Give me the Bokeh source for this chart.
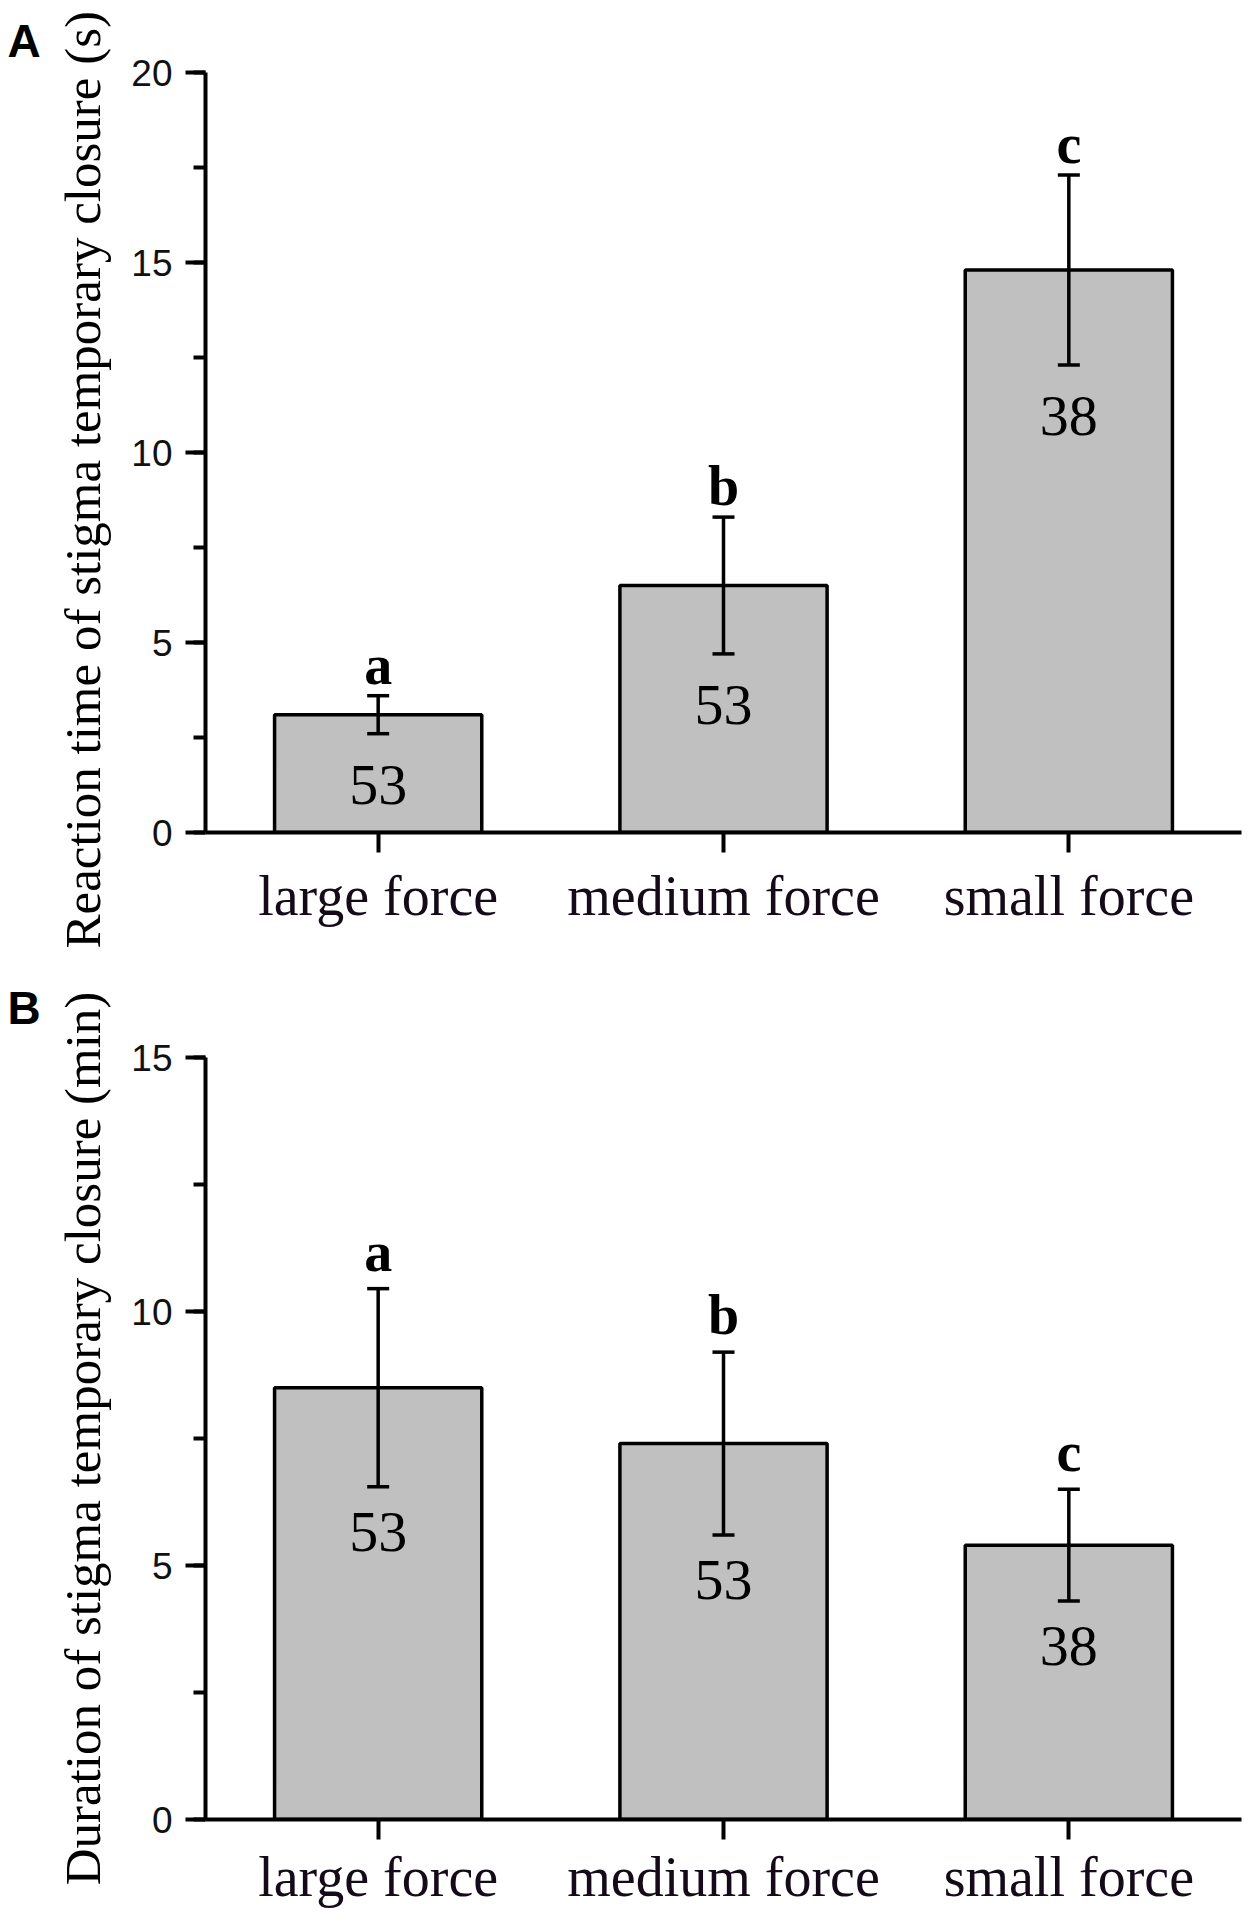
from bokeh.plotting import figure
from bokeh.models import (ColumnDataSource, Range1d, FactorRange, SingleIntervalTicker,
                          Whisker, TeeHead, Title)
from bokeh.layouts import column
from bokeh.embed import file_html
from bokeh.resources import INLINE
from bokeh.core.properties import value

# ---------------- data ----------------
categories = ["large force", "medium force", "small force"]
reaction_mean = [3.1, 6.5, 14.8]
reaction_err = [0.5, 1.8, 2.5]
duration_mean = [8.5, 7.4, 5.4]
duration_err = [1.95, 1.8, 1.1]
sig_letters = ["a", "b", "c"]
n_counts = ["53", "53", "38"]
ylabel_a = "Reaction time of stigma temporary closure (s)"
ylabel_b = "Duration of stigma temporary closure (min)"

SERIF = "Liberation Serif"
SANS = "Liberation Sans"
LW = 4


def panel(means, errs, ymax, height, border_top, border_bottom, letter, ylabel,
          ylabel_align, ylabel_offset, letter_standoff, xlabel_standoff, num_off, sig_off):
    src = ColumnDataSource(dict(
        cat=categories,
        mean=means,
        upper=[m + e for m, e in zip(means, errs)],
        lower=[m - e for m, e in zip(means, errs)],
        sig=sig_letters,
        n=n_counts,
    ))
    p = figure(x_range=FactorRange(*categories, range_padding=0),
               y_range=Range1d(0, ymax),
               width=1258, height=height,
               output_backend="svg", toolbar_location=None,
               min_border_left=205, min_border_right=17,
               min_border_top=border_top, min_border_bottom=border_bottom)
    p.outline_line_color = None
    p.xgrid.visible = False
    p.ygrid.visible = False
    p.background_fill_color = "white"

    p.vbar(x="cat", top="mean", bottom=0, width=0.6, source=src,
           fill_color="#c0c0c0", line_color="black", line_width=3.5)

    w = Whisker(base="cat", upper="upper", lower="lower", source=src,
                dimension="height", line_color="black", line_width=3.5,
                level="annotation",
                upper_head=TeeHead(size=22, line_width=3.5, line_color="black"),
                lower_head=TeeHead(size=22, line_width=3.5, line_color="black"))
    p.add_layout(w)

    p.text(x="cat", y="upper", text="sig", source=src,
           text_font=value(SERIF), text_font_style="bold", text_font_size="56px",
           text_align="center", text_baseline="alphabetic", y_offset=-sig_off,
           text_color="black")
    p.text(x="cat", y="lower", text="n", source=src,
           text_font=value(SERIF), text_font_size="58px",
           text_align="center", text_baseline="alphabetic", y_offset=num_off,
           text_color="black")

    # y axis
    ya = p.yaxis[0]
    ya.ticker = SingleIntervalTicker(interval=5, num_minor_ticks=2)
    ya.axis_line_width = LW
    ya.axis_line_color = "black"
    ya.major_tick_out = 20
    ya.major_tick_in = 0
    ya.minor_tick_out = 12
    ya.minor_tick_in = 0
    ya.major_tick_line_width = LW
    ya.minor_tick_line_width = LW
    ya.major_tick_line_color = "black"
    ya.minor_tick_line_color = "black"
    ya.major_label_text_font = SANS
    ya.major_label_text_font_size = "37px"
    ya.major_label_text_color = "#111111"
    ya.major_label_standoff = 13

    # x axis
    xa = p.xaxis[0]
    xa.axis_line_width = LW
    xa.axis_line_color = "black"
    xa.major_tick_out = 20
    xa.major_tick_in = 0
    xa.major_tick_line_width = LW
    xa.major_tick_line_color = "black"
    xa.major_label_text_font = SERIF
    xa.major_label_text_font_size = "56px"
    xa.major_label_text_color = "#140a18"
    xa.major_label_standoff = xlabel_standoff

    p.add_layout(Title(text=ylabel, align=ylabel_align, offset=ylabel_offset, standoff=35,
                       text_font=SERIF, text_font_size="51px", text_font_style="normal",
                       text_color="black"), "left")
    p.add_layout(Title(text=letter, align="left", offset=-198, standoff=letter_standoff,
                       text_font=SANS, text_font_size="46px", text_font_style="bold",
                       text_color="black"), "above")
    return p


pa = panel(reaction_mean, reaction_err, 20, 954, 72, 122, "A", ylabel_a,
           "left", -116, 12, 12, 51, 31)
pb = panel(duration_mean, duration_err, 15, 967, 103, 102, "B", ylabel_b,
           "center", 0, 47, 6, 45, 37)

layout = column(pa, pb, spacing=0)
open("out.html", "w").write(file_html(layout, INLINE))
